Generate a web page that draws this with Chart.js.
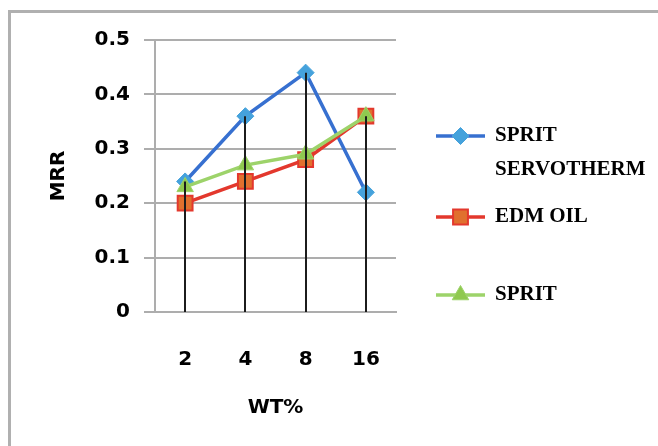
<!DOCTYPE html>
<html>
<head>
<meta charset="utf-8">
<script src="https://cdn.jsdelivr.net/npm/chart.js@4/dist/chart.umd.min.js"></script>
<style>
  html, body { margin: 0; padding: 0; background: #fff; }
  #wrap { position: relative; width: 658px; height: 446px; }
</style>
</head>
<body>
<div id="wrap"><canvas id="c" width="658" height="446"></canvas></div>
<script>
// Material removal rate by weight percentage, for three dielectric fluids
const categories = ['2', '4', '8', '16'];
const seriesNames = ['SPRIT SERVOTHERM', 'EDM OIL', 'SPRIT'];
const servothermMRR = [0.24, 0.36, 0.44, 0.22];
const edmOilMRR = [0.20, 0.24, 0.28, 0.36];
const spritMRR = [0.23, 0.27, 0.29, 0.36];
const yTickValues = [0, 0.1, 0.2, 0.3, 0.4, 0.5];
const yTickLabels = ['0', '0.1', '0.2', '0.3', '0.4', '0.5'];
const xTitle = 'WT%';
const yTitle = 'MRR';

const tickFont = { family: 'DejaVu Sans', size: 20, weight: 'bold' };

// Fallback marker painter in case helpers are not exposed
function paintMarker(ctx, style, r, x, y) {
  ctx.beginPath();
  if (style === 'rectRot') {
    ctx.moveTo(x, y - r); ctx.lineTo(x + r, y); ctx.lineTo(x, y + r); ctx.lineTo(x - r, y);
  } else if (style === 'triangle') {
    ctx.moveTo(x, y - r);
    ctx.lineTo(x + r * Math.sin(Math.PI / 3), y + r / 2);
    ctx.lineTo(x - r * Math.sin(Math.PI / 3), y + r / 2);
  } else {
    const s = r * Math.SQRT1_2;
    ctx.rect(x - s, y - s, 2 * s, 2 * s);
  }
  ctx.closePath();
  ctx.fill();
  ctx.stroke();
}

// Grey frame around the chart object
const frame = {
  id: 'frame',
  beforeDraw(chart) {
    const ctx = chart.ctx;
    ctx.save();
    ctx.fillStyle = '#ffffff';
    ctx.fillRect(0, 0, chart.width, chart.height);
    ctx.strokeStyle = '#b0b0b0';
    ctx.lineWidth = 3;
    ctx.beginPath();
    ctx.moveTo(9.5, chart.height + 5);
    ctx.lineTo(9.5, 11.5);
    ctx.lineTo(chart.width + 5, 11.5);
    ctx.stroke();
    ctx.restore();
  }
};

// Vertical drop lines from the highest point of each category to the axis
const dropLines = {
  id: 'dropLines',
  afterDatasetsDraw(chart, args, opts) {
    const metas = chart.getSortedVisibleDatasetMetas();
    const ctx = chart.ctx;
    const base = chart.scales.y.getPixelForValue(0);
    ctx.save();
    ctx.strokeStyle = opts.color;
    ctx.lineWidth = opts.width;
    for (let i = 0; i < chart.data.labels.length; i++) {
      let top = Infinity, x = null;
      metas.forEach(m => {
        const el = m.data[i];
        if (el && el.y < top) { top = el.y; x = el.x; }
      });
      if (x === null) continue;
      const px = Math.round(x);
      ctx.beginPath();
      ctx.moveTo(px, top);
      ctx.lineTo(px, base);
      ctx.stroke();
    }
    ctx.restore();
  }
};

// Legend on the right, with word-wrapped entries
const sideLegend = {
  id: 'sideLegend',
  afterDraw(chart, args, opts) {
    const ctx = chart.ctx;
    const helperDraw = Chart.helpers && Chart.helpers.drawPoint;
    ctx.save();
    ctx.font = opts.font;
    chart.data.datasets.forEach((ds, i) => {
      const y = opts.rows[i];
      const x0 = opts.x, x1 = opts.x + opts.lineLength, xm = (x0 + x1) / 2;
      ctx.strokeStyle = ds.borderColor;
      ctx.lineWidth = ds.borderWidth;
      ctx.beginPath();
      ctx.moveTo(x0, y);
      ctx.lineTo(x1, y);
      ctx.stroke();

      ctx.fillStyle = ds.pointBackgroundColor;
      ctx.strokeStyle = ds.pointBorderColor;
      ctx.lineWidth = ds.pointBorderWidth;
      if (helperDraw) {
        helperDraw(ctx, { pointStyle: ds.pointStyle, radius: ds.pointRadius, borderWidth: ds.pointBorderWidth, rotation: 0 }, xm, y);
      } else {
        paintMarker(ctx, ds.pointStyle, ds.pointRadius, xm, y);
      }

      // wrap the label into lines no wider than maxTextWidth
      const words = ds.label.split(' ');
      const lines = [];
      let cur = '';
      words.forEach(w => {
        const t = cur ? cur + ' ' + w : w;
        if (cur && ctx.measureText(t).width > opts.maxTextWidth) { lines.push(cur); cur = w; }
        else cur = t;
      });
      if (cur) lines.push(cur);

      ctx.fillStyle = '#000';
      ctx.textAlign = 'left';
      ctx.textBaseline = 'middle';
      lines.forEach((ln, j) => ctx.fillText(ln, opts.textX, y + j * opts.lineGap));
    });
    ctx.restore();
  }
};

new Chart(document.getElementById('c'), {
  type: 'line',
  data: {
    labels: categories,
    datasets: [
      {
        label: seriesNames[0], data: servothermMRR, order: 2,
        borderColor: '#3770d0', backgroundColor: '#45a2dc', borderWidth: 3.5,
        pointStyle: 'rectRot', pointRadius: 8.5,
        pointBackgroundColor: '#45a2dc', pointBorderColor: '#45a2dc', pointBorderWidth: 1
      },
      {
        label: seriesNames[1], data: edmOilMRR, order: 1,
        borderColor: '#e3382d', backgroundColor: '#e0702e', borderWidth: 3.5,
        pointStyle: 'rect', pointRadius: 10.5,
        pointBackgroundColor: '#e0702e', pointBorderColor: '#e3382d', pointBorderWidth: 2
      },
      {
        label: seriesNames[2], data: spritMRR, order: 0,
        borderColor: '#9dd36a', backgroundColor: '#8fc94f', borderWidth: 3.5,
        pointStyle: 'triangle', pointRadius: 9.5,
        pointBackgroundColor: '#8fc94f', pointBorderColor: '#9dd36a', pointBorderWidth: 1
      }
    ]
  },
  options: {
    responsive: false,
    devicePixelRatio: 1,
    animation: false,
    events: [],
    layout: { padding: { left: 0, right: 262, top: 40, bottom: 0 } },
    elements: { line: { tension: 0 } },
    plugins: {
      legend: { display: false },
      tooltip: { enabled: false },
      dropLines: { color: '#1c1c1c', width: 2 },
      sideLegend: {
        x: 436, lineLength: 49, textX: 495,
        rows: [136, 217, 295], lineGap: 34, maxTextWidth: 160,
        font: 'bold 21px "Liberation Serif"'
      }
    },
    scales: {
      x: {
        offset: true,
        afterFit: s => { s.height = 134; },
        grid: { display: false, drawTicks: false },
        border: { display: true, color: '#adadad', width: 2 },
        ticks: { padding: 36, color: '#000', font: tickFont, maxRotation: 0, autoSkip: false },
        title: { display: true, text: xTitle, color: '#000', font: tickFont, padding: { top: 0, bottom: 26 } }
      },
      y: {
        min: 0, max: 0.5,
        afterBuildTicks: s => { s.ticks = yTickValues.map(v => ({ value: v })); },
        afterFit: s => { s.width = 155; },
        grid: { color: '#adadad', lineWidth: 2, drawTicks: true, tickLength: 11 },
        border: { display: true, color: '#adadad', width: 2 },
        ticks: {
          padding: 14, color: '#000', font: tickFont, autoSkip: false,
          callback: (v) => yTickLabels[yTickValues.indexOf(v)]
        },
        title: { display: true, text: yTitle, color: '#000', font: tickFont, padding: { top: 47, bottom: 0 } }
      }
    }
  },
  plugins: [frame, dropLines, sideLegend]
});
</script>
</body>
</html>
